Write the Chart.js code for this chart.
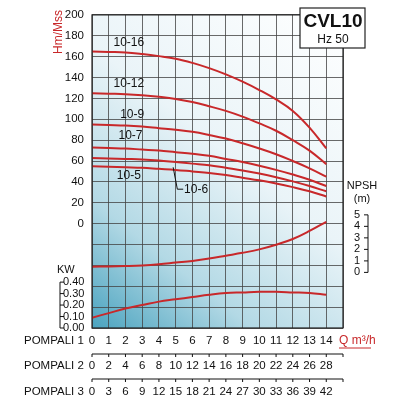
<!DOCTYPE html>
<html><head><meta charset="utf-8">
<script src="https://cdn.jsdelivr.net/npm/chart.js@4"></script>
<style>html,body{margin:0;padding:0;background:#fff}#w{width:400px;height:400px}</style>
</head><body><div id="w"><canvas id="c"></canvas></div>
<script>
const flow = [0,1,2,3,4,5,6,7,8,9,10,11,12,13,14];
const h1016 = [165,164.5,164,162.5,160.5,158,154,149,143,136,128,119,108,92,72];
const h1012 = [125,124.5,124,123,121.5,119.5,116.5,112.5,108,102.5,96,89,80,70,57];
const h109  = [95,94.5,94,93,91.5,90,88,85,81.5,77,72,66.5,60,53,45];
const h107  = [73,72.5,72,71,70,68.5,67,65,62,59,55.5,51.5,47,42,36];
const h106  = [63,62.5,62,61.5,60.5,59,57.5,56,53.5,51,48,44.5,40.5,36,31];
const h105  = [55,54.5,54,53.5,52.5,51.5,50,48.5,46.5,44,41.5,38.5,35,31,26];
const npsh  = [0.5,0.52,0.55,0.6,0.7,0.85,1.0,1.2,1.45,1.7,2.0,2.4,2.9,3.6,4.4];
const kw    = [0.09,0.13,0.17,0.2,0.23,0.25,0.27,0.29,0.305,0.31,0.315,0.315,0.31,0.305,0.29];
const headTicks = [0,20,40,60,80,100,120,140,160,180,200];
const npshTicks = [0,1,2,3,4,5];
const kwTicks = ['0.00','0.10','0.20','0.30','0.40'];
const pompali2 = [0,2,4,6,8,10,12,14,16,18,20,22,24,26,28];
const pompali3 = [0,3,6,9,12,15,18,21,24,27,30,33,36,39,42];
const curveLabels = [['10-16',2.2,173],['10-12',2.2,134],['10-9',2.4,104],['10-7',2.3,84],['10-5',2.2,46]];

const red = '#c8282a';
function ds(d, axis){return {data:flow.map((q,i)=>({x:q,y:d[i]})),yAxisID:axis,borderColor:red,borderWidth:2,pointRadius:0,tension:0.4,fill:false};}

const extra = {
  id:'extra',
  beforeDatasetsDraw(ch){
    const {ctx,chartArea:a}=ch;
    ctx.save();
    const g=ctx.createLinearGradient(a.left,a.bottom,a.right,a.top);
    g.addColorStop(0,'#4aa3bf');g.addColorStop(0.25,'#b3d9e5');g.addColorStop(0.55,'#eaf4f8');g.addColorStop(1,'#ffffff');
    ctx.globalCompositeOperation='destination-over';
    ctx.fillStyle=g;ctx.fillRect(a.left,a.top,a.right-a.left,a.bottom-a.top);
    ctx.restore();
  },
  afterDraw(ch){
    const {ctx,chartArea:a,scales:s}=ch;
    const X=s.x,Y=s.y,N=s.npsh,K=s.kw;
    ctx.save();
    ctx.strokeStyle='#222';ctx.lineWidth=1.2;ctx.strokeRect(a.left,a.top,a.right-a.left,a.bottom-a.top);
    ctx.fillStyle='#111';
    ctx.textAlign='center';ctx.textBaseline='middle';ctx.font='12px "Liberation Sans", Arial';
    curveLabels.forEach(([t,q,v])=>ctx.fillText(t,X.getPixelForValue(q),Y.getPixelForValue(v)));
    ctx.strokeStyle='#111';ctx.lineWidth=1;ctx.beginPath();
    ctx.moveTo(X.getPixelForValue(4.85),Y.getPixelForValue(54));ctx.lineTo(X.getPixelForValue(5.1),Y.getPixelForValue(33));ctx.lineTo(X.getPixelForValue(5.45),Y.getPixelForValue(33));ctx.stroke();
    ctx.textAlign='left';ctx.fillText('10-6',X.getPixelForValue(5.5),Y.getPixelForValue(33));
    ctx.fillStyle='#fff';ctx.fillRect(300,8,65,40);ctx.strokeStyle='#222';ctx.lineWidth=1.2;ctx.strokeRect(300,8,65,40);
    ctx.fillStyle='#111';ctx.textAlign='center';ctx.font='bold 19px "Liberation Sans", Arial';ctx.fillText('CVL10',333,22);
    ctx.font='12px "Liberation Sans", Arial';ctx.fillText('Hz 50',333,40);
    ctx.save();ctx.translate(59,32);ctx.rotate(-Math.PI/2);ctx.fillStyle=red;ctx.font='12px "Liberation Sans", Arial';ctx.fillText('Hm/Mss',0,0);ctx.restore();
    const nx=368;ctx.strokeStyle='#111';ctx.lineWidth=1;ctx.beginPath();
    ctx.moveTo(nx,N.getPixelForValue(0));ctx.lineTo(nx,N.getPixelForValue(5));ctx.stroke();
    ctx.font='11px "Liberation Sans", Arial';ctx.textAlign='center';
    npshTicks.forEach(v=>{const y=N.getPixelForValue(v);ctx.beginPath();ctx.moveTo(nx-4,y);ctx.lineTo(nx,y);ctx.stroke();ctx.fillText(String(v),nx-11,y);});
    ctx.fillText('NPSH',362,186);ctx.fillText('(m)',362,199);
    const kx=60;ctx.beginPath();ctx.moveTo(kx,K.getPixelForValue(0));ctx.lineTo(kx,K.getPixelForValue(0.4));ctx.stroke();
    ctx.textAlign='left';
    kwTicks.forEach(t=>{const y=K.getPixelForValue(+t);ctx.beginPath();ctx.moveTo(kx,y);ctx.lineTo(kx+4,y);ctx.stroke();ctx.fillText(t,kx+3,y);});
    ctx.fillText('KW',57,270);
    ctx.textAlign='left';ctx.font='11.5px "Liberation Sans", Arial';
    ctx.fillText('POMPALI 1',24,341);ctx.fillText('POMPALI 2',24,366);ctx.fillText('POMPALI 3',24,392);
    ctx.textAlign='center';
    [[pompali2,354,366],[pompali3,379,392]].forEach(([arr,ly,ty])=>{
      ctx.beginPath();ctx.moveTo(X.getPixelForValue(0),ly);ctx.lineTo(X.getPixelForValue(15),ly);ctx.stroke();
      for(let i=0;i<=15;i++){const x=X.getPixelForValue(i);ctx.beginPath();ctx.moveTo(x,ly);ctx.lineTo(x,ly+3);ctx.stroke();}
      arr.forEach((v,i)=>ctx.fillText(String(v),X.getPixelForValue(flow[i]),ty));
    });
    ctx.fillStyle=red;ctx.strokeStyle=red;ctx.textAlign='left';ctx.font='12px "Liberation Sans", Arial';
    ctx.fillText('Q m\u00b3/h',339,341);ctx.beginPath();ctx.moveTo(339,348);ctx.lineTo(371,348);ctx.stroke();
    ctx.restore();
  }
};

new Chart(document.getElementById('c'),{
  type:'line',
  data:{datasets:[ds(h1016,'y'),ds(h1012,'y'),ds(h109,'y'),ds(h107,'y'),ds(h106,'y'),ds(h105,'y'),ds(npsh,'npsh'),ds(kw,'kw')]},
  options:{responsive:true,maintainAspectRatio:false,animation:false,
    layout:{padding:{left:0,right:57,top:7,bottom:0}},
    plugins:{legend:{display:false},tooltip:{enabled:false}},
    scales:{
      x:{type:'linear',min:0,max:15,afterFit(s){s.height=72;},
        grid:{color:'#444',lineWidth:0.8,drawTicks:false},border:{display:false},
        ticks:{stepSize:1,padding:6,color:'#111',font:{size:11.5,family:'Liberation Sans'},maxRotation:0,autoSkip:false,callback:v=>v<=14?String(v):''}},
      y:{min:-100,max:200,afterFit(s){s.width=92;},
        grid:{color:'#444',lineWidth:0.8,drawTicks:false},border:{display:false},
        ticks:{stepSize:20,padding:8,color:'#111',font:{size:11.5,family:'Liberation Sans'},callback:v=>v>=0?String(v):''}},
      npsh:{display:false,min:-4.83,max:22.37},
      kw:{display:false,min:0,max:2.73}
    }}
  ,plugins:[extra]});
</script></body></html>
